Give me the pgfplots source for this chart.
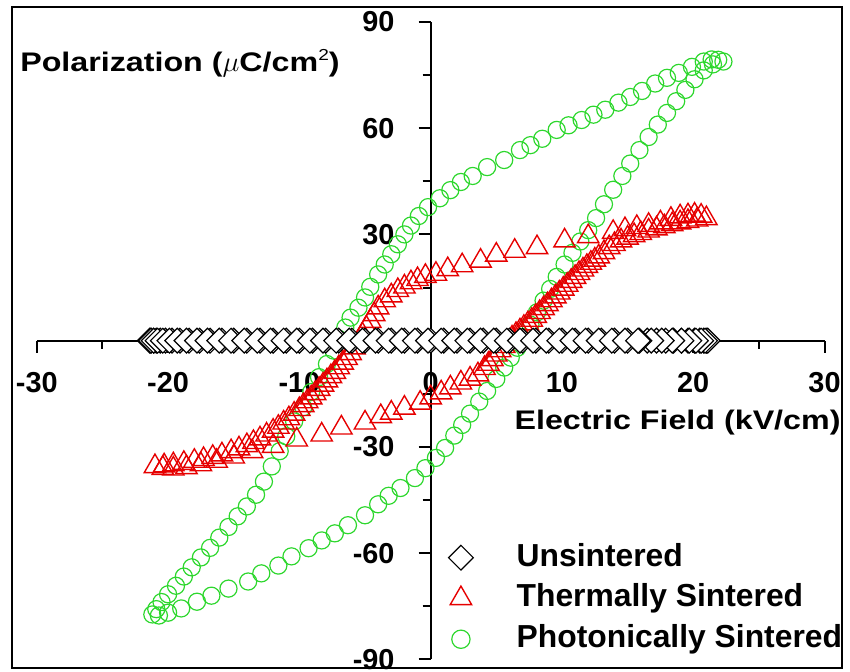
\documentclass[border=0pt]{standalone}
\usepackage{pgfplots}
\pgfplotsset{compat=1.18}
\usepackage{fontspec}
\setmainfont{Liberation Sans}
\newfontfamily\labfont{Liberation Sans}[FakeStretch=1.2]
\definecolor{pgreen}{RGB}{45,215,45}
\definecolor{tred}{RGB}{230,0,0}

\pgfplotstableread{
x y
22.3 78.8
21.9 79.3
21.4 79.4
20.8 78.8
19.9 77.3
18.9 75.6
18.0 74.2
17.1 72.6
16.1 70.5
15.2 68.8
14.3 67.2
13.3 65.2
12.4 63.8
11.5 62.3
10.5 60.8
9.6 59.5
8.5 57.0
7.6 55.2
6.8 53.8
5.6 51.0
4.3 49.0
3.2 46.5
2.3 44.8
1.5 42.5
0.7 40.2
-0.2 37.7
-0.9 35.2
-1.5 32.5
-2.0 30.0
-2.5 27.2
-3.0 24.4
-3.5 21.5
-4.0 18.7
-4.6 15.2
-5.0 12.2
-5.5 9.3
-6.1 6.5
-6.5 3.7
-7.0 0.5
-7.4 -2.8
-7.9 -6.6
-8.5 -10.3
-9.1 -14.5
-9.7 -18.8
-10.4 -22.8
-11.0 -27.0
-11.5 -31.2
-12.1 -35.5
-12.7 -39.8
-13.3 -43.5
-14.0 -46.8
-14.7 -49.6
-15.4 -52.6
-16.1 -55.6
-16.8 -58.5
-17.5 -61.2
-18.2 -64.0
-18.8 -66.6
-19.4 -69.2
-20.0 -71.6
-20.5 -73.8
-20.9 -75.8
-21.2 -77.3
-20.7 -77.6
-20.0 -76.8
-19.0 -75.6
-17.8 -73.7
-16.7 -72.0
-15.4 -70.0
-13.9 -68.0
-12.9 -65.7
-11.6 -63.5
-10.6 -60.9
-9.3 -58.6
-8.3 -56.4
-7.3 -54.4
-6.3 -52.1
-5.0 -49.3
-4.0 -46.2
-3.2 -43.8
-2.3 -41.6
-1.2 -38.8
-0.4 -36.0
0.4 -33.1
1.1 -30.3
1.8 -26.8
2.4 -23.8
3.0 -20.6
3.7 -17.2
4.3 -14.2
5.0 -10.8
5.6 -7.6
6.1 -4.8
6.6 -2.0
7.1 1.0
7.6 4.5
8.1 8.0
8.6 11.3
9.1 14.6
9.6 18.0
10.2 21.5
10.8 24.8
11.4 28.0
12.0 31.2
12.6 34.6
13.2 38.5
13.9 42.6
14.6 46.5
15.2 50.0
15.9 53.8
16.6 57.5
17.3 61.0
18.0 64.3
18.7 67.6
19.4 70.8
20.1 73.8
20.8 76.3
21.5 78.0
}\photonic

\pgfplotstableread{
x y
21.0 34.5
20.6 35.2
20.1 35.5
19.6 35.3
19.0 35.0
18.3 34.3
17.5 33.3
16.6 32.6
15.7 32.0
14.8 31.4
13.9 30.6
12.0 29.4
10.2 28.2
8.1 26.3
6.4 25.3
5.0 24.2
3.8 22.5
2.4 21.2
1.3 20.1
0.4 18.8
-0.4 18.2
-1.0 17.3
-1.5 16.4
-2.0 15.2
-2.5 14.2
-3.0 12.7
-3.5 11.3
-4.0 9.3
-4.3 7.4
-4.6 5.5
-4.9 3.6
-5.2 1.7
-5.5 -0.2
-5.8 -2.0
-6.1 -3.6
-6.4 -5.0
-6.7 -6.3
-7.0 -7.6
-7.3 -8.9
-7.6 -10.1
-7.9 -11.3
-8.2 -12.5
-8.5 -13.7
-8.8 -14.9
-9.1 -16.1
-9.4 -17.2
-9.7 -18.3
-10.0 -19.4
-10.4 -20.7
-10.8 -22.0
-11.2 -23.2
-11.6 -24.4
-12.0 -25.5
-12.5 -26.6
-13.0 -27.7
-13.5 -28.7
-14.0 -29.6
-14.6 -30.5
-15.2 -31.3
-15.9 -32.2
-16.6 -32.9
-17.3 -33.5
-18.0 -34.0
-18.8 -34.6
-19.6 -35.0
-20.3 -35.3
-21.0 -35.5
-20.4 -36.0
-19.6 -36.2
-18.6 -35.8
-17.5 -35.0
-16.3 -34.0
-15.0 -32.8
-13.6 -31.3
-12.0 -29.8
-10.2 -28.0
-8.3 -26.6
-6.8 -24.6
-5.0 -23.2
-3.8 -21.4
-3.0 -20.4
-2.0 -19.0
-0.8 -17.6
0.0 -16.1
0.8 -14.7
1.5 -13.3
2.3 -11.9
3.0 -10.8
3.6 -9.6
4.1 -7.8
4.4 -6.6
4.7 -5.3
5.0 -4.0
5.3 -2.8
5.6 -1.6
5.9 -0.4
6.2 0.8
6.5 1.8
6.8 2.8
7.1 3.8
7.4 4.8
7.7 5.8
8.0 6.9
8.3 8.0
8.6 9.1
8.9 10.2
9.2 11.3
9.5 12.4
9.8 13.5
10.1 14.6
10.4 15.7
10.7 16.8
11.0 17.9
11.3 19.0
11.6 20.0
11.9 21.0
12.2 21.9
12.5 22.8
12.8 23.7
13.2 24.9
13.6 26.3
14.0 27.2
14.5 28.2
15.0 29.0
15.5 29.7
16.0 30.3
16.6 31.0
17.2 31.6
17.8 32.2
18.4 32.8
19.0 33.3
19.6 33.7
20.3 34.1
}\thermal

\pgfplotstableread{
x y
15.8 0
16.5 0
17.2 0
17.9 0
18.5 0
19.1 0
19.6 0
20.1 0
20.5 0
20.8 0
21.0 0
21.1 0
20.9 0
20.6 0
20.2 0
19.7 0
19.1 0
18.4 0
17.6 0
16.8 0
15.9 0
15.0 0
14.0 0
13.0 0
12.0 0
11.0 0
10.0 0
9.0 0
8.0 0
7.0 0
6.0 0
5.0 0
4.0 0
3.0 0
2.0 0
1.0 0
0.0 0
-1.0 0
-2.0 0
-3.0 0
-4.0 0
-5.0 0
-6.0 0
-7.0 0
-8.0 0
-9.0 0
-10.0 0
-11.0 0
-12.0 0
-13.0 0
-14.0 0
-15.0 0
-15.9 0
-16.8 0
-17.6 0
-18.4 0
-19.1 0
-19.7 0
-20.2 0
-20.6 0
-20.9 0
-21.1 0
-21.3 0
-21.4 0
-21.3 0
-21.1 0
-20.8 0
-20.4 0
-19.9 0
-19.3 0
-18.6 0
-17.8 0
-17.0 0
-16.1 0
-15.2 0
-14.2 0
-13.2 0
-12.2 0
-11.2 0
-10.2 0
-9.2 0
-8.2 0
-7.2 0
-6.2 0
-5.2 0
-4.2 0
-3.2 0
-2.2 0
-1.2 0
-0.2 0
0.8 0
1.8 0
2.8 0
3.8 0
4.8 0
5.8 0
6.8 0
7.8 0
8.8 0
9.8 0
10.8 0
11.8 0
12.8 0
13.8 0
14.8 0
15.8 0
}\unsint

\begin{document}
\begin{tikzpicture}
\begin{axis}[
  scale only axis, width=396pt, height=320.5pt,
  xmin=-30, xmax=30, ymin=-90, ymax=90,
  axis lines=middle,
  axis line style={line width=1pt},
  every inner x axis line/.append style={-},
  every inner y axis line/.append style={-},
  clip=false,
  hide obscured x ticks=false,
  hide obscured y ticks=false,
  xtick={-30,-20,-10,0,10,20,30},
  xticklabels={-30,-20,-10,0,10,20,30},
  minor xtick={-25,-15,-5,5,15,25},
  ytick={-90,-60,-30,30,60,90},
  yticklabels={-90,-60,-30,30,60,90},
  minor ytick={-75,-45,-15,15,45,75},
  tick align=outside,
  major tick length=6pt, minor tick length=4pt,
  tick style={line width=1pt, black},
  tick label style={font=\fontsize{14.5}{14.5}\selectfont\bfseries},
  xticklabel style={anchor=north, inner sep=0pt, yshift=-9.5pt},
  yticklabel style={anchor=east, inner sep=0pt, xshift=-12pt},
  every axis y label/.style={at={(axis description cs:-0.0215,0.922)}, anchor=base west, inner sep=0pt},
  every axis x label/.style={at={(axis description cs:0.606,0.3606)}, anchor=base west, inner sep=0pt},
  ylabel={\labfont\bfseries\fontsize{13.5}{13.5}\selectfont Polarization ($\mu$C/cm\raisebox{0.8ex}{\fontsize{8}{8}\selectfont\mdseries 2})},
  xlabel={\labfont\bfseries\fontsize{13.5}{13.5}\selectfont Electric Field (kV/cm)},
  legend style={draw=none, fill=none, at={(axis cs:0.76,-55.4)}, anchor=north west,
    font=\fontsize{16}{16}\selectfont\bfseries,
    nodes={inner sep=1pt, text height=11.5pt, text depth=3pt},
    row sep=4pt, inner xsep=3pt, inner ysep=2pt},
  legend cell align=left,
  legend image code/.code={\path[draw=none,fill=none] (0pt,0pt) -- (34pt,0pt); \draw[#1] plot coordinates {(7pt,0pt)};},
]
\addlegendimage{only marks, mark=square*, mark size=4.4pt, mark options={rotate=45, fill=white, draw=black, line width=0.6pt}}
\addlegendentry{Unsintered}
\addlegendimage{only marks, mark=triangle, mark size=6.2pt, mark options={draw=tred, line width=0.7pt}}
\addlegendentry{Thermally Sintered}
\addlegendimage{only marks, mark=o, mark size=4.6pt, mark options={draw=pgreen, line width=0.6pt}}
\addlegendentry{Photonically Sintered}

\addplot[forget plot, only marks, mark=o, mark size=4.3pt, mark options={draw=pgreen, line width=0.6pt}] table {\photonic};
\addplot[forget plot, only marks, mark=triangle, mark size=6.2pt, mark options={draw=tred, line width=0.7pt}] table {\thermal};
\addplot[forget plot, only marks, mark=square*, mark size=4.4pt, mark options={rotate=45, fill=white, draw=black, line width=0.6pt}] table {\unsint};

\draw[line width=1pt] (axis cs:-31.894,-92.53) rectangle (axis cs:31.364,94.21);
\path (axis cs:-32.803,-93.37) rectangle (axis cs:31.59,96.18);
\end{axis}
\end{tikzpicture}
\end{document}
